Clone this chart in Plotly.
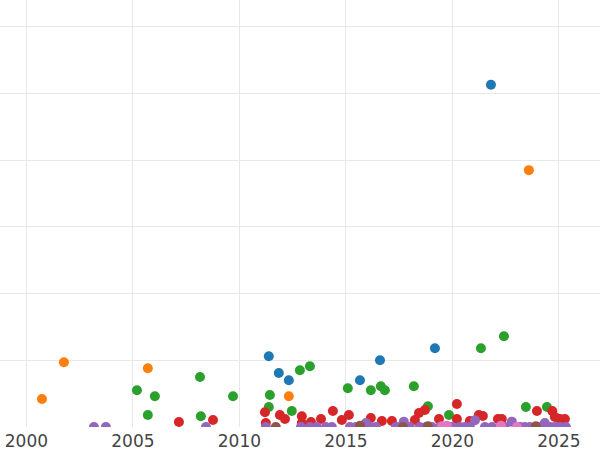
import plotly.graph_objects as go

# series values (x = year, y = value)
blue_x = [2011.38, 2011.85, 2012.32, 2015.66, 2016.60, 2019.18, 2021.81]
blue_y = [106, 81, 70, 70, 100, 118, 513]

orange_x = [2000.73, 2001.76, 2005.70, 2012.32, 2023.59]
orange_y = [42, 97, 88, 46, 385]

green_x = [2005.19, 2005.70, 2006.03, 2008.15, 2008.19, 2009.70, 2011.43, 2011.38,
           2012.46, 2012.84, 2013.31, 2015.09, 2016.17, 2016.64, 2016.83, 2018.19,
           2018.85, 2019.84, 2021.34, 2022.42, 2023.45, 2024.44]
green_y = [55, 18, 46, 75, 16, 46, 48, 30,
           24, 85, 91, 58, 55, 61, 55, 61,
           31, 18, 118, 136, 30, 30]

red_x = [2007.16, 2008.76, 2011.20, 2011.24, 2011.90, 2012.14, 2012.93, 2012.93,
         2013.36, 2013.83, 2014.39, 2014.81, 2015.14, 2016.17, 2016.69, 2017.16,
         2018.24, 2018.43, 2018.71, 2019.37, 2020.21, 2020.21, 2020.82, 2021.24,
         2021.43, 2022.14, 2022.32, 2023.97, 2024.69, 2024.81, 2025.05, 2025.28]
red_y = [7.5, 10.5, 22, 6, 18, 12, 16, 6,
         7.5, 12, 24, 10.5, 18, 13.5, 9, 9,
         10.5, 21, 25.5, 12, 34.5, 12, 9, 18,
         16.5, 12, 12, 24, 24, 15, 12, 12]

purple_x = [2003.17, 2003.73, 2008.43, 2011.24, 2012.89, 2013.31, 2013.64, 2014.06,
            2014.34, 2015.19, 2015.47, 2015.94, 2016.17, 2016.41, 2017.35, 2017.53,
            2017.72, 2018.00, 2018.47, 2018.76, 2019.04, 2019.41, 2019.98, 2020.35,
            2020.59, 2020.82, 2021.06, 2021.53, 2021.86, 2022.23, 2022.46, 2022.79,
            2023.17, 2023.40, 2023.64, 2024.11, 2024.34, 2024.58, 2024.81, 2025.05,
            2025.33]
purple_y = [0, 0, 0, 0, 0, 0, 0, 0,
            0, 0, 0, 6, 0, 0, 0, 0,
            8, 0, 0, 0, 0, 0, 0, 0,
            0, 0, 10, 0, 0, 0, 0, 8,
            0, 0, 0, 0, 6, 0, 0, 0,
            0]

brown_x = [2011.71, 2015.66, 2017.68, 2018.85, 2023.92]
brown_y = [0, 2, 0, 1, 1]

pink_x = [2019.51, 2019.74, 2022.28, 2023.03]
pink_y = [1, 2, 2, 0]

series = [
    ("A", blue_x, blue_y, "#1f77b4"),
    ("B", orange_x, orange_y, "#ff7f0e"),
    ("C", green_x, green_y, "#2ca02c"),
    ("D", red_x, red_y, "#d62728"),
    ("E", purple_x, purple_y, "#9467bd"),
    ("F", brown_x, brown_y, "#8c564b"),
    ("G", pink_x, pink_y, "#e377c2"),
]

fig = go.Figure()

for name, xs, ys, color in series:
    fig.add_trace(
        go.Scatter(
            x=xs,
            y=ys,
            mode="markers",
            name=name,
            marker=dict(size=10, color=color)
        )
    )

fig.update_layout(
    template="none",
    width=600,
    height=450,
    showlegend=False,
    paper_bgcolor="white",
    plot_bgcolor="white",
    font=dict(family="DejaVu Sans", size=17, color="#444"),
    margin=dict(l=0, r=0, t=0, b=23),
    xaxis=dict(range=[1998.76, 2026.93], tick0=2000, dtick=5, ticklabelstandoff=2,
               gridcolor="#e8e8e8", zeroline=False, showline=False),
    yaxis=dict(range=[0, 640], dtick=100, showticklabels=False,
               gridcolor="#e8e8e8", zeroline=False, showline=False),
)

# drop the default page margin so the chart fills the window
fig.write_html(
    "out.html",
    config={"displayModeBar": False},
    post_script="document.body.style.margin = '0';",
)
